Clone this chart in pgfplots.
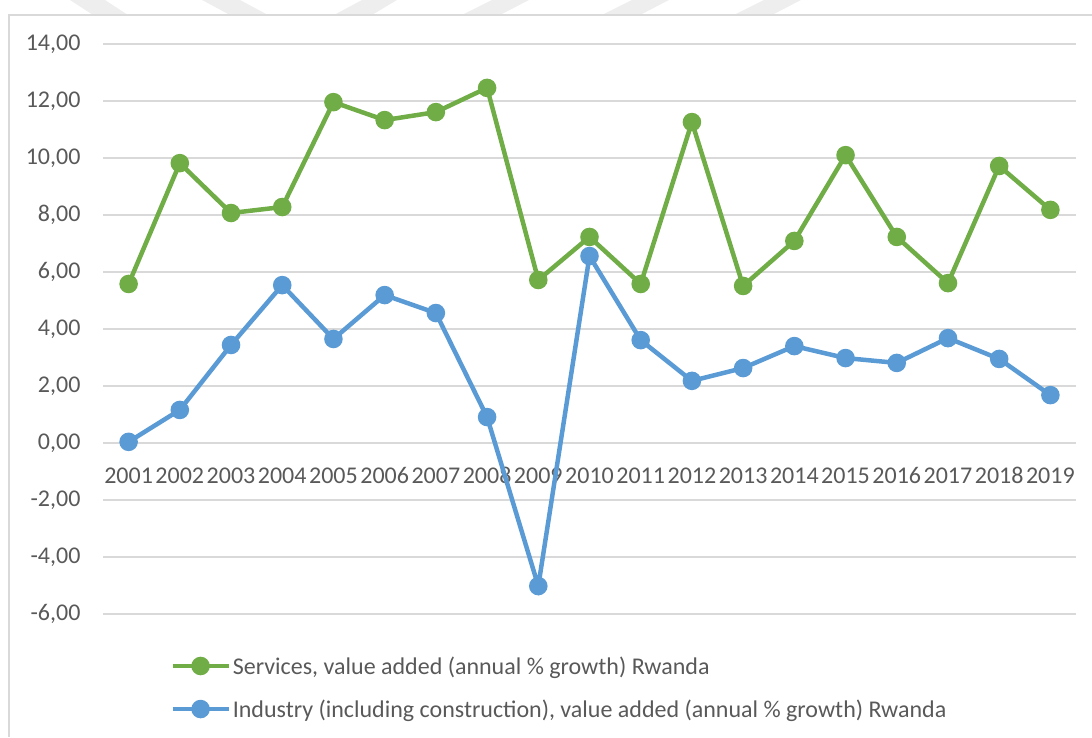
\documentclass[border=0pt]{standalone}
\usepackage{pgfplots}
\pgfplotsset{compat=1.18}
\usepackage{fontspec}
\setmainfont{Carlito}
\definecolor{sgreen}{HTML}{70AD47}
\definecolor{iblue}{HTML}{5B9BD5}
\definecolor{gridc}{HTML}{D9D9D9}
\definecolor{txt}{HTML}{595959}
\definecolor{wm}{HTML}{EEEEEE}
\begin{document}
\begin{tikzpicture}[x=1pt,y=1pt]
\useasboundingbox (0,0) rectangle (1092,737);
% faint watermark bands at the top
\fill[wm] (70,737) -- (105,737) -- (128,722) -- (93,722) -- cycle;
\fill[wm] (202,737) -- (240,737) -- (268,722) -- (230,722) -- cycle;
\fill[wm] (362,737) -- (397,737) -- (372,722) -- (334,722) -- cycle;
\fill[wm] (492,737) -- (529,737) -- (500,722) -- (462,722) -- cycle;
\fill[wm] (632,737) -- (669,737) -- (640,722) -- (602,722) -- cycle;
\fill[wm] (764,737) -- (801,737) -- (772,722) -- (734,722) -- cycle;
\draw[gridc, line width=1.3pt] (9,0) -- (9,722) -- (1092,722);
\begin{axis}[
  at={(103pt,123pt)}, anchor=south west,
  scale only axis, width=973pt, height=570pt,
  xmin=-0.5, xmax=18.5, ymin=-6, ymax=14,
  axis x line=middle, axis y line=left,
  x axis line style={-, draw=gridc, line width=1.3pt},
  y axis line style={draw=none},
  xtick=data,
  xticklabels={2001,2002,2003,2004,2005,2006,2007,2008,2009,2010,2011,2012,2013,2014,2015,2016,2017,2018,2019},
  ytick={-6,-4,...,14},
  major tick length=0pt,
  ymajorgrids, grid style={draw=gridc, line width=1.3pt},
  tick label style={font=\fontsize{24}{29}\selectfont, text=txt},
  xticklabel style={yshift=-21pt},
  yticklabel style={xshift=-19pt},
  /pgf/number format/.cd, fixed, fixed zerofill, precision=2, use comma, assume math mode=true,
  /pgfplots/.cd,
  legend style={draw=none, fill=none, at={(0.069,-0.129)}, anchor=west, inner sep=0pt,
    font=\fontsize{24}{29}\selectfont, text=txt, row sep=20pt,
    /tikz/every odd column/.style={column sep=0pt}},
  legend cell align=left,
  legend image code/.code={\draw[mark repeat=2,mark phase=2,#1] plot coordinates {(0pt,0pt) (28pt,0pt) (56pt,0pt)};},
  clip=false,
]
\addplot[sgreen, line width=4.5pt, mark=*, mark size=7pt, mark options={solid}] coordinates {
(0,5.58) (1,9.82) (2,8.07) (3,8.28) (4,11.96) (5,11.33) (6,11.61) (7,12.46) (8,5.72) (9,7.23)
(10,5.58) (11,11.26) (12,5.51) (13,7.09) (14,10.10) (15,7.23) (16,5.61) (17,9.72) (18,8.18)};
\addlegendentry{Services, value added (annual \% growth) Rwanda}
\addplot[iblue, line width=4.5pt, mark=*, mark size=7pt, mark options={solid}] coordinates {
(0,0.04) (1,1.16) (2,3.44) (3,5.54) (4,3.65) (5,5.19) (6,4.56) (7,0.91) (8,-5.02) (9,6.56)
(10,3.61) (11,2.18) (12,2.63) (13,3.40) (14,2.98) (15,2.81) (16,3.68) (17,2.95) (18,1.68)};
\addlegendentry{Industry (including construction), value added (annual \% growth) Rwanda}
\end{axis}
\end{tikzpicture}
\end{document}
